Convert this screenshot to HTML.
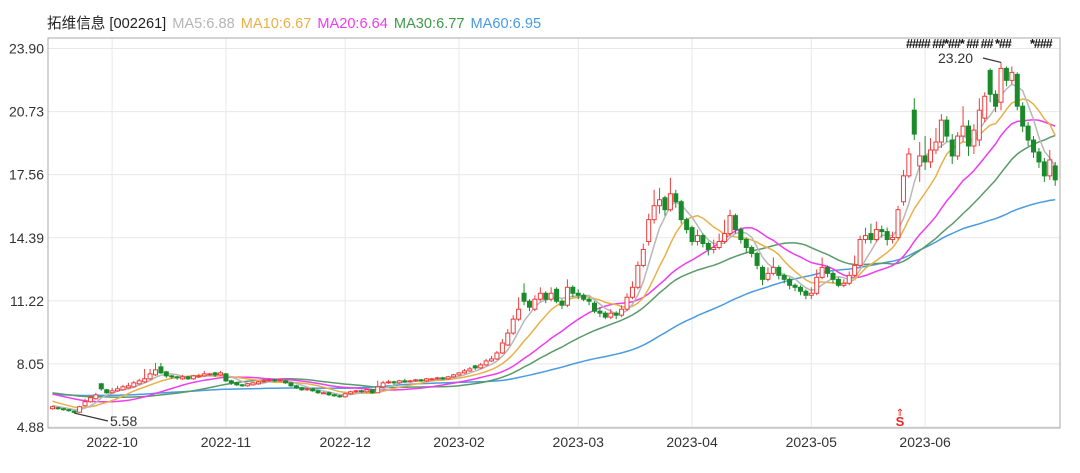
<!DOCTYPE html>
<html><head><meta charset="utf-8"><style>
body{margin:0;background:#fff;width:1080px;height:473px;overflow:hidden;font-family:"Liberation Sans","Noto Sans CJK SC",sans-serif}
#hdr{position:absolute;left:47px;top:12px;font-size:14.6px;white-space:nowrap}
#hdr span{margin-right:6px}
</style></head><body>
<div id="hdr">
<span style="color:#222">拓维信息 [002261]</span><span style="color:#b5b5b5">MA5:6.88</span><span style="color:#e8b04a">MA10:6.67</span><span style="color:#f03cf0">MA20:6.64</span><span style="color:#3f9a4a">MA30:6.77</span><span style="color:#4a9be0">MA60:6.95</span>
</div>
<svg id="chart" width="1080" height="473" style="position:absolute;left:0;top:0"></svg>
<script>
const yTicks=[23.90,20.73,17.56,14.39,11.22,8.05,4.88];
const xTickIdx=[11,32,54,75,97,118,140,161];
const xTickLabels=["2022-10","2022-11","2022-12","2023-02","2023-03","2023-04","2023-05","2023-06"];
const preCloses=[6.4,6.45,6.5,6.45,6.4,6.5,6.45,6.4,6.5,6.45,6.5,6.45,6.4,6.45,6.5,6.45,6.4,6.45,6.5,6.45,6.4,6.5,6.45,6.4,6.5,6.45,6.5,6.45,6.4,6.45,6.6,6.7,6.75,6.7,6.65,6.7,6.75,6.7,6.7,6.68,6.85,6.9,6.95,6.9,6.85,6.9,6.95,6.9,6.9,6.88,6.7,6.6,6.5,6.4,6.3,6.15,6.05,6.0,5.95,5.9];
const opens=[5.8,5.85,5.8,5.75,5.68,5.62,5.95,6.15,6.3,7.05,6.75,6.6,6.7,6.75,6.85,6.9,7.05,7.15,7.3,7.5,7.9,7.65,7.45,7.4,7.3,7.4,7.3,7.4,7.45,7.5,7.6,7.5,7.55,7.2,7.1,7.0,6.95,7.0,7.05,7.15,7.2,7.25,7.2,7.2,7.1,6.95,6.85,6.75,6.8,6.7,6.6,6.6,6.5,6.45,6.4,6.55,6.65,6.7,6.65,6.75,6.6,6.9,7.1,7.15,7.1,7.2,7.15,7.2,7.25,7.2,7.3,7.3,7.35,7.3,7.4,7.5,7.6,7.7,7.95,7.85,8.0,8.2,8.3,8.6,9.0,9.6,10.3,11.6,11.2,10.8,11.3,11.6,11.3,11.8,11.2,11.0,11.9,11.6,11.5,11.3,11.1,10.7,10.6,10.4,10.6,10.5,10.8,11.4,11.9,13.0,14.2,15.3,16.0,16.4,15.8,16.6,16.2,15.3,14.9,14.2,14.5,14.1,13.8,13.9,14.2,14.6,15.5,14.8,14.3,13.9,13.6,12.9,12.3,12.6,12.9,12.5,12.3,12.0,11.9,11.7,11.5,11.6,12.4,12.9,12.6,12.3,12.0,12.1,12.5,13.0,14.3,14.6,14.3,14.8,14.7,14.3,14.4,16.2,17.5,20.8,18.0,18.5,18.2,18.8,19.2,20.3,19.3,18.5,19.5,20.0,19.0,19.3,20.4,22.8,21.6,21.2,22.9,22.3,22.6,21.0,20.0,19.3,18.7,18.2,17.5,18.0];
const closes=[5.9,5.8,5.75,5.7,5.62,5.9,6.15,6.35,6.5,6.8,6.6,6.7,6.8,6.9,6.95,7.1,7.2,7.3,7.55,7.75,7.6,7.45,7.4,7.35,7.4,7.3,7.45,7.45,7.55,7.55,7.5,7.6,7.2,7.1,7.0,6.95,7.05,7.1,7.15,7.2,7.25,7.2,7.25,7.1,6.95,6.85,6.75,6.8,6.7,6.6,6.6,6.5,6.45,6.4,6.55,6.65,6.7,6.65,6.75,6.6,6.9,7.1,7.15,7.1,7.2,7.15,7.2,7.25,7.2,7.3,7.3,7.35,7.3,7.4,7.5,7.6,7.7,7.8,7.85,8.0,8.2,8.3,8.6,9.1,9.6,10.3,10.8,11.2,10.9,11.3,11.6,11.3,11.6,11.2,11.0,11.9,11.6,11.5,11.3,11.2,10.7,10.6,10.4,10.6,10.5,10.8,11.4,11.9,13.0,13.8,15.3,16.0,16.3,15.8,16.6,16.2,15.3,14.8,14.2,14.5,14.1,13.8,13.9,14.2,14.6,15.5,14.8,14.3,13.9,13.6,13.0,12.3,12.6,12.9,12.5,12.3,12.0,11.9,11.7,11.5,11.6,12.4,12.9,12.6,12.3,12.0,12.1,12.5,13.0,14.3,14.5,14.3,14.8,14.7,14.3,14.4,15.8,17.5,18.6,19.6,18.5,18.2,18.8,19.2,20.3,19.5,18.5,19.5,20.0,19.0,19.8,20.8,21.5,21.6,21.0,22.9,22.3,22.7,21.0,20.0,19.3,18.7,18.2,17.5,18.3,17.3];
const highs=[5.95,5.88,5.82,5.78,5.7,5.95,6.3,6.45,6.6,7.1,6.8,6.85,6.95,7.0,7.1,7.2,7.3,7.8,7.8,8.1,8.1,7.7,7.5,7.45,7.5,7.45,7.5,7.55,7.7,7.6,7.65,7.7,7.6,7.25,7.15,7.05,7.1,7.15,7.2,7.3,7.3,7.3,7.3,7.25,7.1,7.0,6.9,6.85,6.85,6.75,6.65,6.65,6.55,6.5,6.6,6.7,6.75,6.75,6.8,6.78,7.2,7.2,7.25,7.2,7.25,7.3,7.25,7.3,7.3,7.35,7.35,7.4,7.4,7.45,7.55,7.65,7.8,7.9,8.0,8.1,8.3,8.45,8.7,9.3,9.8,10.5,11.4,12.1,11.3,11.5,11.9,11.7,11.9,11.9,11.3,12.3,12.0,11.8,11.6,11.4,11.2,10.9,10.7,10.8,10.7,11.0,11.6,12.2,13.2,14.1,15.6,16.8,16.9,16.5,17.4,16.8,16.3,15.4,15.0,14.8,14.6,14.2,14.3,14.6,15.3,15.8,15.6,14.9,14.4,14.0,13.7,13.0,12.9,13.4,13.0,12.6,12.4,12.1,12.0,11.8,11.9,12.8,13.4,13.0,12.7,12.4,12.3,12.7,13.5,14.5,14.9,15.1,15.2,15.0,14.9,14.7,16.0,17.8,18.9,21.4,19.2,19.5,19.4,19.9,20.6,20.5,19.6,19.7,21.0,20.3,20.1,21.4,21.7,22.9,21.8,23.2,23.0,23.0,22.7,21.2,20.2,19.5,18.9,18.4,18.8,18.2];
const lows=[5.75,5.75,5.7,5.65,5.58,5.6,5.9,6.1,6.25,6.7,6.55,6.55,6.65,6.7,6.8,6.85,7.0,7.1,7.25,7.45,7.55,7.35,7.3,7.25,7.25,7.25,7.25,7.35,7.4,7.45,7.4,7.45,7.15,7.0,6.95,6.9,6.9,6.95,7.0,7.1,7.15,7.15,7.15,7.05,6.9,6.8,6.7,6.7,6.65,6.55,6.55,6.45,6.4,6.35,6.35,6.5,6.6,6.6,6.6,6.55,6.6,6.85,7.05,7.0,7.05,7.1,7.1,7.15,7.15,7.15,7.25,7.25,7.25,7.25,7.35,7.45,7.55,7.65,7.75,7.8,7.95,8.15,8.25,8.55,8.95,9.5,10.2,11.0,10.7,10.7,11.2,11.1,11.2,11.1,10.8,10.9,11.4,11.3,11.2,11.0,10.6,10.4,10.3,10.3,10.3,10.4,10.7,11.3,11.8,12.9,14.0,15.1,15.6,15.5,15.7,15.9,15.1,14.6,14.0,14.0,13.9,13.5,13.6,13.8,14.1,14.5,14.6,14.1,13.6,13.4,12.8,12.0,12.2,12.5,12.3,12.1,11.8,11.7,11.5,11.3,11.3,11.5,12.3,12.4,12.1,11.9,11.9,12.0,12.4,12.9,14.1,14.1,14.2,14.4,14.0,14.1,14.3,16.0,17.4,19.3,17.2,17.8,17.9,18.6,18.9,19.2,18.1,18.3,19.2,18.5,18.6,19.0,20.2,21.2,20.7,20.8,22.0,22.1,20.8,19.7,19.0,18.4,17.9,17.2,17.3,17.0];

const svg=document.getElementById('chart');
const NS='http://www.w3.org/2000/svg';
const L=48,R=1060,T=38,B=428;
const x0=52.5,step=5.42;
function xs(i){return x0+i*step;}
function ys(v){return 427-(v-4.88)*19.9;}
function mk(tag,attrs,parent){const e=document.createElementNS(NS,tag);for(const k in attrs)e.setAttribute(k,attrs[k]);(parent||svg).appendChild(e);return e;}

yTicks.forEach((v,k)=>{
  const g=mk('line',{x1:L,x2:R,y1:ys(v),y2:ys(v),stroke:'#e8e8e8','stroke-width':1});
  
  
  const t=mk('text',{x:44,y:ys(v)+5,'text-anchor':'end','font-size':14,fill:'#333'});
  t.textContent=v.toFixed(2);
  
  
});
xTickIdx.forEach((idx,k)=>{
  const g=mk('line',{x1:xs(idx),x2:xs(idx),y1:T,y2:B,stroke:'#e8e8e8','stroke-width':1});
  
  
  const t=mk('text',{x:xs(idx),y:447,'text-anchor':'middle','font-size':14,fill:'#333'});
  t.textContent=xTickLabels[k];
  
  
});
const frame=mk('rect',{x:L,y:T,width:R-L,height:B-T,fill:'none',stroke:'#aaa','stroke-width':1});



const all=preCloses.concat(closes);
const P=preCloses.length;
function maPath(n){let d='';for(let i=0;i<closes.length;i++){let s=0;for(let j=0;j<n;j++)s+=all[P+i-j];const v=s/n;d+=(i?'L':'M')+xs(i).toFixed(1)+' '+ys(v).toFixed(1);}return d;}
const maDefs=[[60,'#4a9be0','ma60-line'],[30,'#5a9a6a','ma30-line'],[20,'#f03cf0','ma20-line'],[10,'#e8b04a','ma10-line'],[5,'#b8b8b8','ma5-line']];
maDefs.forEach(m=>{
  const p=mk('path',{d:maPath(m[0]),fill:'none',stroke:m[1],'stroke-width':1.5});
  
  
});

for(let i=0;i<closes.length;i++){
  const o=opens[i],c=closes[i],up=c>=o;
  const col=up?'#ee3b3b':'#1a8a2a';
  const x=xs(i);
  const g=mk('g',{});
  
  
  mk('line',{x1:x,x2:x,y1:ys(highs[i]),y2:ys(lows[i]),stroke:col,'stroke-width':1},g);
  const top=ys(Math.max(o,c)),bot=ys(Math.min(o,c));
  mk('rect',{x:x-2,y:top,width:4,height:Math.max(1,bot-top),fill:up?'#fff':col,stroke:col,'stroke-width':1},g);
}

function annot(i,v,tx,ty,label,name){
  const a=mk('line',{x1:tx,y1:ty,x2:xs(i),y2:ys(v),stroke:'#333','stroke-width':1.2});
  
  
  const t=mk('text',{x:tx+(tx<xs(i)?-45:2),y:ty+5,'font-size':14,fill:'#333'});
  t.textContent=label;
  
  
}
annot(4,5.58,108,421,'5.58','low-marker');
annot(175,23.2,983,58,'23.20','high-marker');

const sig=mk('text',{x:906,y:48,'font-size':12.5,'font-weight':'bold',fill:'#111','letter-spacing':'-1'});
sig.textContent='#### ##*##* ## ## *##';


const sig2=mk('text',{x:1030,y:48,'font-size':12.5,'font-weight':'bold',fill:'#111','letter-spacing':'-1'});
sig2.textContent='*###';


const s=mk('text',{x:900,y:426,'font-size':13,'font-weight':'bold',fill:'#e22','text-anchor':'middle'});
s.textContent='S';


const sa=mk('text',{x:900,y:416,'font-size':10,fill:'#e22','text-anchor':'middle'});
sa.textContent='⇑';


</script>
</body></html>
